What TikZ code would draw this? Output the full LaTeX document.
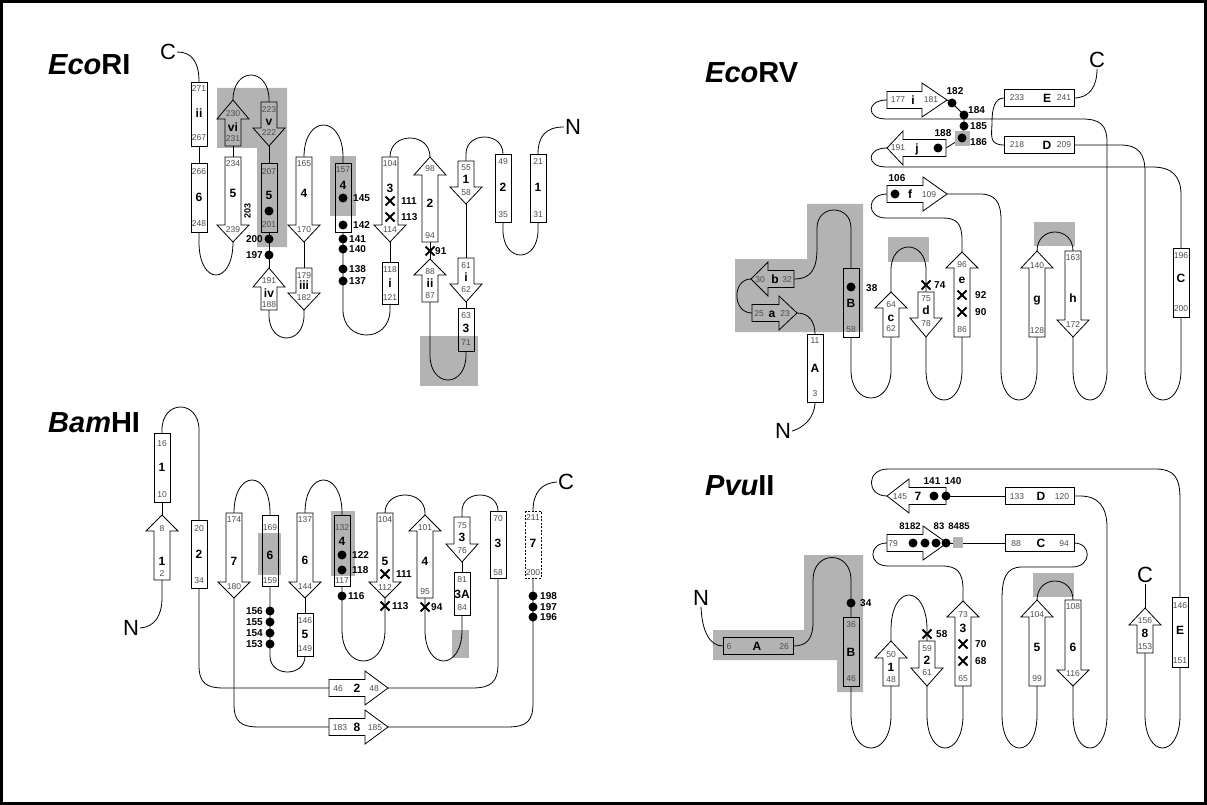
\documentclass[tikz,border=0pt]{standalone}
\usepackage{fontspec}
\setmainfont{Liberation Sans}
\pgfdeclarelayer{bg}
\pgfsetlayers{bg,main}
\definecolor{hl}{RGB}{179,179,179}
\tikzset{
  conn/.style={line width=0.8pt},
  shp/.style={draw, line width=0.8pt, fill=white},
  shpg/.style={draw, line width=0.8pt, fill=hl},
  num/.style={font=\fontsize{8.5}{9}\selectfont, text=black!70, inner sep=0pt, text height=6pt, text depth=0pt},
  lab/.style={font=\fontsize{12}{13}\selectfont\bfseries, inner sep=0pt, text height=8.6pt, text depth=0pt},
  dlab/.style={font=\fontsize{10}{11}\selectfont\bfseries, inner sep=0pt, text height=7.2pt, text depth=0pt},
  slab/.style={font=\fontsize{9.5}{10}\selectfont\bfseries, inner sep=0pt, text height=6.8pt, text depth=0pt},
  term/.style={font=\fontsize{22}{23}\selectfont, inner sep=1pt},
  ttl/.style={font=\fontsize{29}{30}\selectfont\bfseries, inner sep=0pt, anchor=base west},
}
% vertical box: name, cx, ytop, ybot, style
\newcommand{\VBox}[5]{%
  \path[#5] ({#2-8},#3) rectangle ({#2+8},#4);
  \coordinate (#1-t) at (#2,#3);
  \coordinate (#1-b) at (#2,#4);}
% up arrow: name, cx, ytip, yheadbase, ybot, style
\newcommand{\UpA}[6]{%
  \path[#6] ({#2-8},#5) -- ({#2-8},#4) -- ({#2-16},#4) -- (#2,#3) -- ({#2+16},#4) -- ({#2+8},#4) -- ({#2+8},#5) -- cycle;
  \coordinate (#1-t) at (#2,#3);
  \coordinate (#1-b) at (#2,#5);}
% down arrow: name, cx, ytop, yheadbase, ytip, style
\newcommand{\DnA}[6]{%
  \path[#6] ({#2-8},#3) -- ({#2-8},#4) -- ({#2-16},#4) -- (#2,#5) -- ({#2+16},#4) -- ({#2+8},#4) -- ({#2+8},#3) -- cycle;
  \coordinate (#1-t) at (#2,#3);
  \coordinate (#1-b) at (#2,#5);}
% right arrow: name, xtail, xheadbase, xtip, cy, style
\newcommand{\RtA}[6]{%
  \path[#6] (#2,{#5-8.5}) -- (#3,{#5-8.5}) -- (#3,{#5-17}) -- (#4,#5) -- (#3,{#5+17}) -- (#3,{#5+8.5}) -- (#2,{#5+8.5}) -- cycle;
  \coordinate (#1-tail) at (#2,#5);
  \coordinate (#1-tip) at (#4,#5);}
% left arrow: name, xtip, xheadbase, xtail, cy, style
\newcommand{\LfA}[6]{%
  \path[#6] (#4,{#5-8.5}) -- (#3,{#5-8.5}) -- (#3,{#5-17}) -- (#2,#5) -- (#3,{#5+17}) -- (#3,{#5+8.5}) -- (#4,{#5+8.5}) -- cycle;
  \coordinate (#1-tail) at (#4,#5);
  \coordinate (#1-tip) at (#2,#5);}
% horizontal box: name, xl, xr, cy, style
\newcommand{\HBox}[5]{%
  \path[#5] (#2,{#4-8.5}) rectangle (#3,{#4+8.5});
  \coordinate (#1-l) at (#2,#4);
  \coordinate (#1-r) at (#3,#4);}
% loop: from, x1, x2, ystraight, yextreme, to
\newcommand{\Loop}[6]{%
  \draw[conn] (#1) -- (#2,#4) .. controls (#2,{#4+(#5-#4)*4/3}) and (#3,{#4+(#5-#4)*4/3}) .. (#3,#4) -- (#6);}
\newcommand{\Dt}[3]{\fill (#2,#3) circle (4.5pt); \coordinate (#1) at (#2,#3);}
\newcommand{\Xm}[3]{\draw[line width=1.8pt] ({#2-4.5},{#3-4.5}) -- ({#2+4.5},{#3+4.5}) ({#2-4.5},{#3+4.5}) -- ({#2+4.5},{#3-4.5}); \coordinate (#1) at (#2,#3);}
\newcommand{\Nm}[3]{\node[num] at (#1,#2) {#3};}
\newcommand{\Lb}[3]{\node[lab] at (#1,#2) {#3};}
\newcommand{\Dw}[3]{\node[dlab,anchor=west] at (#1,#2) {#3};}
\newcommand{\De}[3]{\node[dlab,anchor=east] at (#1,#2) {#3};}
\newcommand{\Dc}[3]{\node[dlab] at (#1,#2) {#3};}
\begin{document}
\begin{tikzpicture}[x=1pt,y=-1pt]
\useasboundingbox (0,0) rectangle (1207,805);
\draw[line width=3pt] (1.5,1.5) rectangle (1205.5,803.5);
% titles
\node[ttl] (t1) at (48,75) {{\itshape Eco}RI};
\node[ttl] (t2) at (705,83) {{\itshape Eco}RV};
\node[ttl] (t3) at (48,432) {{\itshape Bam}HI};
\node[ttl] (t4) at (705,495) {{\itshape Pvu}II};

%================ EcoRI =================
\VBox{e1b1}{538}{154}{222}{shp}
\Nm{538}{162}{21}\Lb{538}{187}{1}\Nm{538}{215}{31}
\VBox{e1b2}{503}{154}{222}{shp}
\Nm{503}{162}{49}\Lb{503}{187}{2}\Nm{503}{215}{35}
\DnA{e1a1}{466}{161}{187}{204}{shp}
\Nm{466}{168}{55}\Lb{466}{179}{1}\Nm{466}{193}{58}
\DnA{e1ai}{466}{258}{284}{302}{shp}
\Nm{466}{265}{61}\Lb{466}{277}{i}\Nm{466}{289}{62}
\VBox{e1b3}{466}{308}{351}{fill=white}
\fill[hl] (458,336) rectangle (474,351);
\VBox{e1b3o}{466}{308}{351}{draw,line width=.8pt}
\Nm{466}{315}{63}\Lb{466}{328}{3}\Nm{466}{342}{71}
\UpA{e1aii}{430}{259}{275}{302}{shp}
\Nm{430}{271}{88}\Lb{430}{283}{ii}\Nm{430}{295}{87}
\UpA{e1a2}{430}{157}{175}{242}{shp}
\Nm{430}{169}{98}\Lb{430}{203}{2}\Nm{430}{235}{94}
\Xm{e1x91}{430}{251}\Dw{435}{251}{91}
\DnA{e1a3}{390}{157}{225}{242}{shp}
\Nm{390}{164}{104}\Lb{390}{188}{3}\Nm{390}{230}{114}
\Xm{e1x111}{390}{201}\Dw{401}{201}{111}
\Xm{e1x113}{390}{217}\Dw{401}{217}{113}
\VBox{e1bi}{390}{262}{304}{shp}
\Nm{390}{269}{118}\Lb{390}{283}{i}\Nm{390}{297}{121}
\VBox{e1b4}{343}{163}{232}{fill=white}
\fill[hl] (335,163) rectangle (351,216);
\VBox{e1b4o}{343}{163}{232}{draw,line width=.8pt}
\Nm{343}{170}{157}\Lb{343}{185}{4}
\Dt{e1d145}{343}{198}\Dw{353}{198}{145}
\Dt{e1d142}{343}{225}\Dw{353}{225}{142}
\Dt{e1d141}{343}{239}\Dw{349}{239}{141}
\Dt{e1d140}{343}{249}\Dw{349}{249}{140}
\Dt{e1d138}{343}{269}\Dw{349}{269}{138}
\Dt{e1d137}{343}{281}\Dw{349}{281}{137}
\DnA{e1a4}{304}{157}{225}{242}{shp}
\Nm{304}{164}{165}\Lb{304}{193}{4}\Nm{304}{230}{170}
\DnA{e1aiii}{304}{268}{293}{310}{shp}
\Nm{304}{275}{179}\Lb{304}{285}{iii}\Nm{304}{297}{182}
\UpA{e1aiv}{269}{268}{287}{310}{shp}
\Nm{269}{280}{191}\Lb{269}{293}{iv}\Nm{269}{304}{188}
\VBox{e1b5}{269}{163}{232}{shpg}
\Nm{269}{172}{207}\Lb{269}{195}{5}\Dt{e1d5}{269}{211}\Nm{269}{224}{201}
\Dt{e1d200}{269}{239}\De{263}{239}{200}
\Dt{e1d197}{269}{255}\De{263}{255}{197}
\DnA{e1av}{269}{102}{128}{146}{shpg}
\Nm{269}{110}{223}\Lb{269}{121}{v}\Nm{269}{133}{222}
\UpA{e1avi}{233}{100}{119}{146}{shpg}
\Nm{233}{114}{230}\Lb{233}{127}{vi}\Nm{233}{139}{231}
\DnA{e1a5}{233}{157}{225}{242}{shp}
\Nm{233}{164}{234}\Lb{233}{193}{5}\Nm{233}{230}{239}
\node[dlab,font=\fontsize{9}{10}\selectfont\bfseries,rotate=90] (e1r203) at (247,211) {203};
\VBox{e1b6}{199}{163}{232}{shp}
\Nm{199}{172}{266}\Lb{199}{197}{6}\Nm{199}{223}{248}
\VBox{e1bii}{199}{82}{146}{shp}
\Nm{199}{89}{271}\Lb{199}{113}{ii}\Nm{199}{138}{267}
\node[term] (e1N) at (573,127) {N};
\node[term] (e1C) at (168,52) {C};

%================ EcoRV =================
\VBox{evA}{815}{334}{402}{shp}
\Nm{815}{340}{11}\Lb{815}{368}{A}\Nm{815}{393}{3}
\RtA{eva}{752}{779}{797}{313}{shpg}
\Nm{759}{313}{25}\Lb{772}{313}{a}\Nm{785}{313}{23}
\LfA{evb}{751}{768}{794}{279}{shpg}
\Nm{760}{279}{30}\Lb{775}{279}{b}\Nm{787}{279}{32}
\VBox{evB}{851}{268}{337}{fill=hl}
\fill[white] (843,332) rectangle (859,337);
\VBox{evBo}{851}{268}{337}{draw,line width=.8pt}
\Dt{evd38}{851}{287}\Dw{866}{288}{38}\Lb{851}{303}{B}\Nm{851}{329}{58}
\UpA{evc}{891}{292}{308}{337}{shp}
\Nm{891}{304}{64}\Lb{891}{317}{c}\Nm{891}{328}{62}
\DnA{evd}{926}{292}{318}{337}{shp}
\Nm{926}{298}{75}\Lb{926}{310}{d}\Nm{926}{323}{78}
\Xm{evx74}{926}{285}\Dw{934}{285}{74}
\UpA{eve}{962}{252}{268}{337}{shp}
\Nm{962}{264}{96}\Lb{962}{279}{e}\Nm{962}{329}{86}
\Xm{evx92}{962}{295}\Dw{975}{295}{92}
\Xm{evx90}{962}{312}\Dw{975}{312}{90}
\RtA{evf}{887}{923}{947}{194}{shp}
\Dt{evd106}{895}{194}\Lb{910}{194}{f}\Nm{929}{194}{109}
\Dc{897}{178}{106}
\UpA{evg}{1037}{251}{268}{337}{shp}
\Nm{1037}{265}{140}\Lb{1037}{298}{g}\Nm{1037}{330}{128}
\DnA{evh}{1073}{251}{320}{337}{shp}
\Nm{1073}{257}{163}\Lb{1073}{298}{h}\Nm{1073}{324}{172}
\RtA{evi}{887}{922}{947}{100}{shp}
\Nm{898}{100}{177}\Lb{913}{100}{i}\Nm{931}{100}{181}
\LfA{evj}{887}{903}{946}{148}{shp}
\Nm{898}{148}{191}\Lb{917}{148}{j}\Dt{evd188}{938}{148}
\Dc{943}{133}{188}
\fill[hl] (955,131) rectangle (970,146);
\Dt{evd182}{952}{103}\Dc{955}{91}{182}
\Dt{evd184}{964}{115}\Dw{968}{110}{184}
\Dt{evd185}{964}{126}\Dw{970}{126}{185}
\Dt{evd186}{962}{138}\Dw{970}{142}{186}
\VBox{evC}{1181}{248}{317}{shp}
\Nm{1181}{255}{196}\Lb{1181}{278}{C}\Nm{1181}{308}{200}
\HBox{evD}{1004}{1074}{145}{shp}
\Nm{1017}{145}{218}\Lb{1047}{145}{D}\Nm{1064}{145}{209}
\HBox{evE}{1004}{1074}{98}{shp}
\Nm{1017}{98}{233}\Lb{1047}{98}{E}\Nm{1064}{98}{241}
\node[term] (evN) at (783,431) {N};
\node[term] (evC2) at (1097,60) {C};

%================ BamHI =================
\VBox{bb1}{162}{433}{502}{shp}
\Nm{162}{443}{16}\Lb{162}{467}{1}\Nm{162}{494}{10}
\UpA{ba1}{162}{515}{531}{580}{shp}
\Nm{162}{528}{8}\Lb{162}{561}{1}\Nm{162}{573}{2}
\VBox{bb2}{199}{520}{588}{shp}
\Nm{199}{528}{20}\Lb{199}{554}{2}\Nm{199}{580}{34}
\DnA{ba7}{234}{513}{582}{598}{shp}
\Nm{234}{519}{174}\Lb{234}{561}{7}\Nm{234}{586}{180}
\VBox{bb6}{270}{515}{586}{fill=white}
\fill[hl] (262,533) rectangle (278,575);
\VBox{bb6o}{270}{515}{586}{draw,line width=.8pt}
\Nm{270}{527}{169}\Lb{270}{555}{6}\Nm{270}{580}{159}
\DnA{ba6}{305}{513}{582}{598}{shp}
\Nm{305}{519}{137}\Lb{305}{560}{6}\Nm{305}{586}{144}
\VBox{bb5}{305}{613}{656}{shp}
\Nm{305}{620}{146}\Lb{305}{634}{5}\Nm{305}{648}{149}
\VBox{bb4}{342}{515}{586}{fill=white}
\fill[hl] (334,515) rectangle (350,576);
\VBox{bb4o}{342}{515}{586}{draw,line width=.8pt}
\Nm{342}{527}{132}\Lb{342}{541}{4}
\Dt{bd122}{342}{555}\Dw{352}{555}{122}
\Dt{bd118}{342}{570}\Dw{352}{570}{118}
\Nm{342}{580}{117}
\Dt{bd116}{342}{596}\Dw{348}{596}{116}
\DnA{ba5}{385}{513}{582}{598}{shp}
\Nm{385}{519}{104}\Lb{385}{561}{5}\Nm{385}{587}{112}
\Xm{bx111}{385}{574}\Dw{396}{574}{111}
\Xm{bx113}{385}{606}\Dw{392}{606}{113}
\UpA{ba4}{425}{515}{531}{598}{shp}
\Nm{425}{527}{101}\Lb{425}{561}{4}\Nm{425}{591}{95}
\Xm{bx94}{425}{607}\Dw{431}{607}{94}
\DnA{ba3}{462}{517}{544}{562}{shp}
\Nm{462}{525}{75}\Lb{462}{537}{3}\Nm{462}{550}{76}
\VBox{bb3A}{462}{572}{615}{shp}
\Nm{462}{579}{81}\Lb{462}{594}{3A}\Nm{462}{607}{84}
\VBox{bb3}{498}{511}{578}{shp}
\Nm{498}{518}{70}\Lb{498}{543}{3}\Nm{498}{572}{58}
\VBox{bb7}{533}{511}{578}{fill=white,draw,dash pattern=on 2pt off 1.5pt,line width=.8pt}
\Nm{533}{517}{211}\Lb{533}{543}{7}\Nm{533}{572}{200}
\Dt{bd198}{533}{596}\Dw{540}{596}{198}
\Dt{bd197}{533}{607}\Dw{540}{607}{197}
\Dt{bd196}{533}{617}\Dw{540}{617}{196}
\Dt{bd156}{270}{611}\De{263}{611}{156}
\Dt{bd155}{270}{622}\De{263}{622}{155}
\Dt{bd154}{270}{633}\De{263}{633}{154}
\Dt{bd153}{270}{644}\De{263}{644}{153}
\RtA{ba2}{329}{365}{388}{688}{shp}
\Nm{338}{688}{46}\Lb{357}{688}{2}\Nm{374}{688}{48}
\RtA{ba8}{329}{365}{388}{727}{shp}
\Nm{340}{727}{183}\Lb{357}{727}{8}\Nm{375}{727}{185}
\node[term] (bN) at (131,628) {N};
\node[term] (bC) at (566,482) {C};

%================ PvuII =================
\HBox{pA}{723}{793}{646}{shpg}
\Nm{729}{646}{6}\Lb{757}{646}{A}\Nm{784}{646}{26}
\VBox{pB}{851}{617}{686}{shpg}
\Nm{851}{624}{36}\Lb{851}{652}{B}\Nm{851}{678}{46}
\Dt{pd34}{851}{603}\Dw{860}{603}{34}
\UpA{pa1}{891}{641}{658}{686}{shp}
\Nm{891}{654}{50}\Lb{891}{667}{1}\Nm{891}{679}{48}
\DnA{pa2}{927}{641}{668}{686}{shp}
\Nm{927}{648}{59}\Lb{927}{660}{2}\Nm{927}{672}{61}
\Xm{px58}{927}{634}\Dw{936}{634}{58}
\UpA{pa3}{963}{601}{617}{686}{shp}
\Nm{963}{614}{73}\Lb{963}{628}{3}\Nm{963}{678}{65}
\Xm{px70}{963}{644}\Dw{975}{644}{70}
\Xm{px68}{963}{661}\Dw{975}{661}{68}
\UpA{pa5}{1037}{600}{617}{686}{shp}
\Nm{1037}{614}{104}\Lb{1037}{647}{5}\Nm{1037}{678}{99}
\DnA{pa6}{1073}{600}{670}{686}{shp}
\Nm{1073}{606}{108}\Lb{1073}{647}{6}\Nm{1073}{673}{116}
\UpA{pa8}{1145}{608}{625}{653}{shp}
\Nm{1145}{620}{156}\Lb{1145}{633}{8}\Nm{1145}{646}{153}
\VBox{pE}{1180}{597}{667}{shp}
\Nm{1180}{605}{146}\Lb{1180}{630}{E}\Nm{1180}{660}{151}
\HBox{pC}{1005}{1074}{543}{shp}
\Nm{1016}{543}{88}\Lb{1041}{543}{C}\Nm{1064}{543}{94}
\HBox{pD}{1005}{1074}{496}{shp}
\Nm{1017}{496}{133}\Lb{1041}{496}{D}\Nm{1062}{496}{120}
\RtA{pa79}{887}{923}{947}{543}{shp}
\Nm{893}{543}{79}
\Dt{pd81}{913}{543}\Dt{pd82}{925}{543}\Dt{pd83}{936}{543}\Dt{pd84}{946}{543}
\fill[hl] (953,537) rectangle (963,548);
\node[slab] at (910,526) {8182};
\node[slab] at (939,526) {83};
\node[slab] at (959,526) {8485};
\LfA{pa7}{887}{909}{946}{496}{shp}
\Nm{900}{496}{145}\Lb{918}{496}{7}
\Dt{pd141}{934}{496}\Dt{pd140}{946}{496}
\Dc{932}{481}{141}\Dc{953}{481}{140}
\node[term] (pN) at (701,598) {N};
\node[term] (pC2) at (1145,575) {C};

%================ background: highlights + connectors =================
\begin{pgfonlayer}{bg}
% highlights
\fill[hl] (217,88) -- (287,88) -- (287,247) -- (257,247) -- (257,148) -- (217,148) -- cycle;
\fill[hl] (330,156) rectangle (356,216);
\fill[hl] (420,336) rectangle (478,386);
\fill[hl] (807,204) -- (863,204) -- (863,332) -- (735,332) -- (735,259) -- (807,259) -- cycle;
\fill[hl] (888,237) rectangle (929,262);
\fill[hl] (1034,222) rectangle (1075,246);
\fill[hl] (258,533) rectangle (281,575);
\fill[hl] (331,511) rectangle (355,576);
\fill[hl] (452,630) rectangle (469,658);
\fill[hl] (804,555) -- (863,555) -- (863,692) -- (837,692) -- (837,660) -- (713,660) -- (713,630) -- (804,630) -- cycle;
\fill[hl] (1033,573) rectangle (1074,597);
% EcoRI connectors
\draw[conn] (e1b1-t) .. controls (538,136) and (546,127) .. (e1N.west);
\Loop{e1b1-b}{538}{503}{230}{255}{e1b2-b}
\Loop{e1b2-t}{503}{466}{154}{137}{e1a1-t}
\draw[conn] (e1a1-b) -- (e1ai-t);
\draw[conn] (e1ai-b) -- (e1b3-t);
\Loop{e1b3-b}{466}{430}{355}{380}{e1aii-b}
\draw[conn] (e1aii-t) -- (e1a2-b);
\Loop{e1a2-t}{430}{390}{157}{138}{e1a3-t}
\draw[conn] (e1a3-b) -- (e1bi-t);
\Loop{e1bi-b}{390}{343}{310}{335}{e1b4-b}
\Loop{e1b4-t}{343}{304}{157}{125}{e1a4-t}
\draw[conn] (e1a4-b) -- (e1aiii-t);
\Loop{e1aiii-b}{304}{269}{315}{338}{e1aiv-b}
\draw[conn] (e1aiv-t) -- (e1b5-b);
\draw[conn] (e1b5-t) -- (e1av-b);
\Loop{e1av-t}{269}{233}{100}{75}{e1avi-t}
\draw[conn] (e1avi-b) -- (e1a5-t);
\Loop{e1a5-b}{233}{199}{242}{275}{e1b6-b}
\draw[conn] (e1b6-t) -- (e1bii-b);
\draw[conn] (e1bii-t) .. controls (199,62) and (192,52) .. (e1C.east);
% EcoRV connectors
\draw[conn] (evN.east) .. controls (803,428) and (815,418) .. (evA-b);
\draw[conn] (eva-tip) .. controls (809,313) and (815,322) .. (evA-t);
\draw[conn] (eva-tail) .. controls (732,313) and (732,279) .. (evb-tip);
\draw[conn] (evb-tail) .. controls (812,279) and (817,268) .. (817,248) -- (817,228) .. controls (817,204) and (851,204) .. (851,228) -- (evB-t);
\Loop{evB-b}{851}{891}{370}{398}{evc-b}
\Loop{evc-t}{891}{926}{270}{247}{evd-t}
\Loop{evd-b}{926}{962}{370}{400}{eve-b}
\draw[conn] (eve-t) -- (962,240) .. controls (962,224) and (957,218) .. (943,218) -- (886,218) .. controls (866,218) and (866,194) .. (evf-tail);
\draw[conn] (evf-tip) -- (980,194) .. controls (995,194) and (1001,202) .. (1001,220) -- (1001,370) .. controls (1001,410) and (1037,410) .. (1037,370) -- (evg-b);
\Loop{evg-t}{1037}{1073}{251}{232}{evh-t}
\draw[conn] (evh-b) -- (1073,370) .. controls (1073,410) and (1107,410) .. (1107,370) -- (1107,142) .. controls (1107,125) and (1100,119) .. (1082,119) -- (886,119) .. controls (866,119) and (866,100) .. (evi-tail);
\draw[conn] (evi-tip) -- (evd182) -- (evd184) -- (evd185) -- (evd186) -- (evj-tail);
\draw[conn] (evj-tip) .. controls (866,148) and (866,167) .. (886,167) -- (1152,167) .. controls (1172,167) and (1181,176) .. (1181,195) -- (evC-t);
\draw[conn] (evC-b) -- (1181,370) .. controls (1181,410) and (1145,410) .. (1145,370) -- (1145,172) .. controls (1145,153) and (1138,145) .. (1120,145) -- (evD-r);
\draw[conn] (evD-l) .. controls (988,145) and (992,134) .. (992,122) .. controls (992,108) and (995,98) .. (evE-l);
\draw[conn] (evE-r) .. controls (1090,98) and (1097,86) .. (evC2.south);
% BamHI connectors
\draw[conn] (bN.east) .. controls (155,627) and (162,615) .. (162,598) -- (ba1-b);
\draw[conn] (ba1-t) -- (bb1-b);
\Loop{bb1-t}{162}{199}{430}{407}{bb2-t}
\draw[conn] (bb2-b) -- (199,665) .. controls (199,683) and (206,688) .. (224,688) -- (ba2-tail);
\draw[conn] (ba2-tip) -- (472,688) .. controls (491,688) and (498,682) .. (498,664) -- (bb3-b);
\Loop{bb3-t}{498}{462}{511}{495}{ba3-t}
\draw[conn] (ba3-b) -- (bb3A-t);
\Loop{bb3A-b}{462}{425}{630}{661}{ba4-b}
\Loop{ba4-t}{425}{385}{513}{495}{ba5-t}
\Loop{ba5-b}{385}{342}{630}{661}{bb4-b}
\Loop{bb4-t}{342}{305}{513}{480}{ba6-t}
\draw[conn] (ba6-b) -- (bb5-t);
\Loop{bb5-b}{305}{270}{656}{672}{bb6-b}
\Loop{bb6-t}{270}{234}{513}{480}{ba7-t}
\draw[conn] (ba7-b) -- (234,704) .. controls (234,722) and (241,727) .. (259,727) -- (ba8-tail);
\draw[conn] (ba8-tip) -- (507,727) .. controls (527,727) and (533,721) .. (533,703) -- (bb7-b);
\draw[conn] (bb7-t) .. controls (533,492) and (542,483) .. (bC.west);
% PvuII connectors
\draw[conn] (pN.south) .. controls (702,632) and (710,646) .. (pA-l);
\draw[conn] (pA-r) .. controls (806,646) and (813,640) .. (813,622) -- (813,580) .. controls (813,550) and (851,550) .. (851,580) -- (pB-t);
\Loop{pB-b}{851}{891}{715}{748}{pa1-b}
\Loop{pa1-t}{891}{927}{630}{595}{pa2-t}
\Loop{pa2-b}{927}{963}{715}{748}{pa3-b}
\draw[conn] (pa3-t) -- (963,590) .. controls (963,572) and (957,566) .. (942,566) -- (888,566) .. controls (868,566) and (868,543) .. (pa79-tail);
\draw[conn] (pa79-tip) -- (pC-l);
\draw[conn] (pC-r) .. controls (1092,543) and (1092,567) .. (1072,567) -- (1022,567) .. controls (1005,567) and (1002,580) .. (1002,600) -- (1002,715) .. controls (1002,759) and (1037,759) .. (1037,715) -- (pa5-b);
\Loop{pa5-t}{1037}{1073}{600}{581}{pa6-t}
\draw[conn] (pa6-b) -- (1073,715) .. controls (1073,759) and (1107,759) .. (1107,715) -- (1107,528) .. controls (1107,506) and (1098,496) .. (1080,496) -- (pD-r);
\draw[conn] (pD-l) -- (pa7-tail);
\draw[conn] (pa7-tip) .. controls (866,496) and (866,469) .. (888,469) -- (1155,469) .. controls (1175,469) and (1180,478) .. (1180,500) -- (pE-t);
\Loop{pE-b}{1180}{1145}{715}{748}{pa8-b}
\draw[conn] (pa8-t) -- (pC2.south);
\end{pgfonlayer}
\end{tikzpicture}
\end{document}
